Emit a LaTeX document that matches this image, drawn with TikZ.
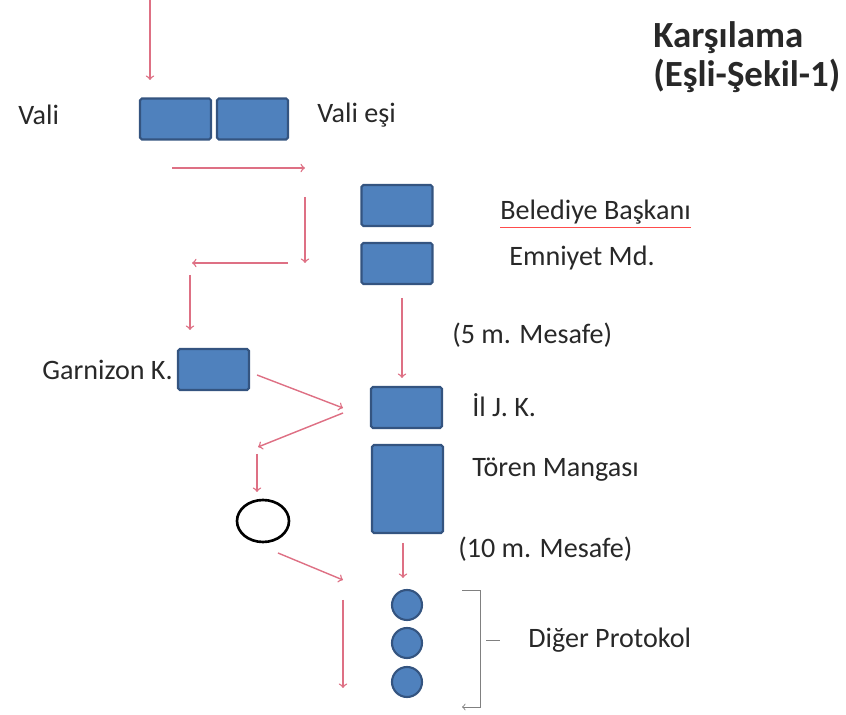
\documentclass[tikz,border=0pt]{standalone}
\usepackage{fontspec}
\setmainfont{Carlito}
\usepackage{tikz}
\usetikzlibrary{arrows.meta, shapes.geometric}

\definecolor{boxblue}{RGB}{79,129,189}
\definecolor{boxline}{RGB}{52,84,128}
\definecolor{flowred}{RGB}{222,112,132}
\definecolor{textgray}{RGB}{40,40,40}

\tikzset{
	box/.style={shape=rectangle, draw=boxline, fill=boxblue, line width=1.2pt, rounded corners=1pt, minimum width=1.42cm, minimum height=0.82cm, inner sep=0pt},
	guest/.style={shape=circle, draw=boxline, fill=boxblue, line width=1.2pt, minimum size=0.6cm, inner sep=0pt},
	flow/.style={draw=flowred, line width=0.8pt, -to},
	lbl/.style={anchor=west, inner sep=0pt, text=textgray, font=\fontsize{16}{18}\selectfont}
}

\begin{document}
\begin{tikzpicture}[x=0.02cm, y=-0.02cm]
	% Frame:
	\useasboundingbox (0,0) rectangle (846,715);

	% Boxes and guests:
	\node[box] (valibox) at (175.5,119) {};
	\node[box] (esibox) at (252.5,119) {};
	\node[box] (baskanbox) at (397,205.5) {};
	\node[box] (emniyetbox) at (397,263.5) {};
	\node[box] (garnizonbox) at (213.5,369.5) {};
	\node[box] (iljkbox) at (406.5,407.5) {};
	\node[box, minimum height=1.76cm] (torenbox) at (407.5,489) {};
	\node[shape=ellipse, draw, line width=1.5pt, minimum width=1.04cm, minimum height=0.84cm] (ring) at (263,521) {};
	\foreach \i/\y in {1/605, 2/643, 3/682}
		\node[guest] (guest\i) at (407,\y) {};

	% Labels:
	\node[lbl] (vali) at (18,115) {Vali};
	\node[lbl] (valiesi) at (317,115) {Vali eşi};
	\node[lbl] (baskan) at (500,212) {Belediye Başkanı};
	\node[lbl] (emniyet) at (509,258) {Emniyet Md.};
	\node[lbl] (mesafe1) at (452,335) {(5 m. Mesafe)};
	\node[lbl] (garnizon) at (42,370) {Garnizon K.};
	\node[lbl] (iljk) at (472,405) {İl J. K.};
	\node[lbl] (toren) at (472,470) {Tören Mangası};
	\node[lbl] (mesafe2) at (458,549) {(10 m. Mesafe)};
	\node[lbl] (diger) at (528,640) {Diğer Protokol};
	\node[anchor=west, align=left, inner sep=0pt, text=textgray, font=\bfseries\fontsize{21}{22}\selectfont] (baslik) at (653,57) {Karşılama\\(Eşli-Şekil-1)};
	\draw[red!70, line width=0.4pt] ([yshift=-0.05cm]baskan.south west) -- ([yshift=-0.05cm]baskan.south east);

	% Walking directions:
	\coordinate (a1s) at (150,0);   \coordinate (a1e) at (150,80);
	\coordinate (a2s) at (172,168); \coordinate (a2e) at (305,168);
	\coordinate (a3s) at (305,197); \coordinate (a3e) at (305,263);
	\coordinate (a4s) at (288,263); \coordinate (a4e) at (192,263);
	\coordinate (a5s) at (190,275); \coordinate (a5e) at (190,330);
	\coordinate (a6s) at (402,298); \coordinate (a6e) at (402,378);
	\coordinate (a7s) at (257,375); \coordinate (a7e) at (343,408);
	\coordinate (a8s) at (343,413); \coordinate (a8e) at (258,447);
	\coordinate (a9s) at (257,454); \coordinate (a9e) at (257,492);
	\coordinate (a10s) at (403,543); \coordinate (a10e) at (403,578);
	\coordinate (a11s) at (278,553); \coordinate (a11e) at (343,580);
	\coordinate (a12s) at (343,600); \coordinate (a12e) at (343,688);
	\foreach \n in {1,...,12}
		\draw[flow] (a\n s) -- (a\n e);

	% Bracket:
	\coordinate (bt) at (462,590);
	\coordinate (bb) at (462,707);
	\draw[gray, line width=0.5pt, -to] (bt) -- (480,590) -- (480,707) -- (bb);
	\draw[gray, line width=0.5pt] (486,640) -- (500,640);
\end{tikzpicture}
\end{document}
